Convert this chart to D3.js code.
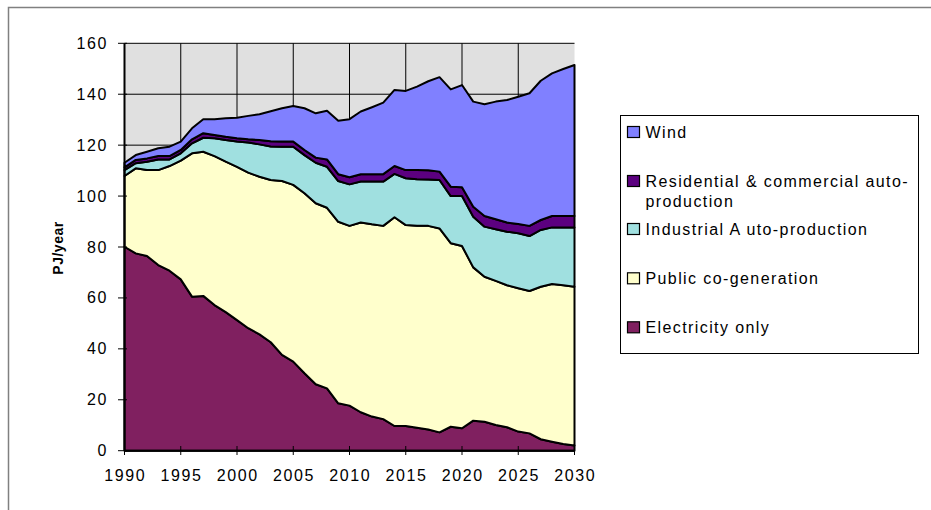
<!DOCTYPE html>
<html><head><meta charset="utf-8">
<script src="https://cdn.jsdelivr.net/npm/d3@7"></script>
<style>body{margin:0;background:#fff}svg{display:block}text{font-family:"Liberation Sans",Arial,sans-serif}</style>
</head><body><svg id="c" width="931" height="510"></svg>
<script>
const years = d3.range(1990, 2031);
const electricityOnly = [80.1,77.5,76.5,72.9,70.7,67.3,60.5,60.8,57.2,54.4,51.3,48.1,45.7,42.6,37.6,35.0,30.4,26.1,24.5,18.6,17.7,15.1,13.4,12.4,9.7,9.7,9.0,8.3,7.2,9.4,8.8,11.8,11.4,10.1,9.2,7.5,6.8,4.5,3.5,2.6,2.0];
const publicCogen = [27.8,33.4,33.7,37.3,41.1,46.6,56.3,56.6,58.5,59.1,60.2,61.1,61.9,63.7,68.3,69.4,70.7,71.1,70.9,71.3,70.6,74.5,75.5,75.9,82.0,78.9,79.3,80.0,80.1,72.1,71.6,60.2,56.9,56.6,55.8,56.3,55.9,59.9,62.0,62.4,62.4];
const industrialAuto = [2.3,2.0,3.3,4.2,2.6,2.9,3.9,5.5,7.0,8.5,9.9,11.8,12.7,13.2,13.5,15.0,15.0,15.9,16.1,16.0,16.3,16.1,16.8,17.4,17.0,18.4,18.3,18.2,19.0,18.5,19.6,19.9,19.7,20.3,21.0,21.6,21.6,22.3,22.2,22.7,23.3];
const residentialAuto = [1.1,1.3,1.3,1.3,1.3,1.3,1.6,1.8,1.3,1.3,1.3,1.3,1.7,2.0,2.0,2.0,2.0,2.0,2.9,2.7,2.8,2.9,2.9,2.9,3.1,3.2,3.6,3.6,3.3,3.7,3.5,3.9,4.2,3.9,3.6,3.6,4.0,3.9,4.5,4.5,4.5];
const wind = [1.8,1.9,2.6,3.1,3.7,3.3,4.3,5.5,6.2,7.3,8.1,9.2,10.1,11.8,13.1,14.0,16.4,17.4,19.1,21.0,22.8,24.6,26.3,28.1,29.9,31.1,32.8,35.0,37.1,38.2,40.1,41.3,43.9,46.2,48.1,50.0,52.1,54.7,56.0,57.7,59.3];
const seriesKeys = ["Electricity only","Public co-generation","Industrial A uto-production","Residential & commercial auto-production","Wind"];
const seriesColors = ["#802060","#FFFFCC","#A0E0E0","#5C0080","#8080FF"];
const yTicks = [0,20,40,60,80,100,120,140,160];
const xTicks = [1990,1995,2000,2005,2010,2015,2020,2025,2030];
const legendOrder = ["Wind","Residential & commercial auto-|production","Industrial A uto-production","Public co-generation","Electricity only"];

const seriesArrays = [electricityOnly, publicCogen, industrialAuto, residentialAuto, wind];
const table = years.map((y,i)=>{const o={year:y}; seriesKeys.forEach((k,j)=>o[k]=seriesArrays[j][i]); return o;});

const svg = d3.select("#c");
const L=124.5, R=574.5, T=43.3, B=450.7;
const x = d3.scaleLinear().domain([1990,2030]).range([L,R]);
const y = d3.scaleLinear().domain([0,160]).range([B,T]);

svg.append("rect").attr("x",8.5).attr("y",7.5).attr("width",1000).attr("height",1000)
  .attr("fill","none").attr("stroke","#808080").attr("stroke-width",1.5);

svg.append("rect").attr("x",L).attr("y",T).attr("width",R-L).attr("height",B-T).attr("fill","#E0E0E0");
svg.append("g").selectAll("line").data(yTicks).join("line")
  .attr("x1",L).attr("x2",R).attr("y1",d=>y(d)).attr("y2",d=>y(d)).attr("stroke","#000").attr("stroke-width",1);
svg.append("g").selectAll("line").data(xTicks.slice(1,-1)).join("line")
  .attr("y1",T).attr("y2",B).attr("x1",d=>x(d)).attr("x2",d=>x(d)).attr("stroke","#000").attr("stroke-width",1);

const stack = d3.stack().keys(seriesKeys)(table);
const area = d3.area().x(d=>x(d.data.year)).y0(d=>y(d[0])).y1(d=>y(d[1]));
svg.append("g").selectAll("path").data(stack).join("path")
  .attr("d",area).attr("fill",(d,i)=>seriesColors[i]).attr("stroke","#000").attr("stroke-width",2).attr("stroke-linejoin","round");

svg.append("line").attr("x1",L).attr("x2",L).attr("y1",T).attr("y2",B).attr("stroke","#000").attr("stroke-width",2);
svg.append("line").attr("x1",L).attr("x2",R).attr("y1",B).attr("y2",B).attr("stroke","#000").attr("stroke-width",2);

const ya = svg.append("g");
ya.selectAll("line").data(yTicks).join("line").attr("x1",118).attr("x2",127).attr("y1",d=>y(d)).attr("y2",d=>y(d)).attr("stroke","#000");
ya.selectAll("text").data(yTicks).join("text").attr("x",108).attr("y",d=>y(d)+5.5).attr("text-anchor","end")
  .attr("font-size",16).attr("letter-spacing",1.6).text(d=>d);
const xa = svg.append("g");
xa.selectAll("line").data(xTicks).join("line").attr("y1",446).attr("y2",455).attr("x1",d=>x(d)).attr("x2",d=>x(d)).attr("stroke","#000");
xa.selectAll("text").data(xTicks).join("text").attr("x",d=>x(d)+0.8).attr("y",481).attr("text-anchor","middle")
  .attr("font-size",16).attr("letter-spacing",1.6).text(d=>d);

svg.append("text").attr("transform","translate(63,248) rotate(-90)").attr("text-anchor","middle")
  .attr("font-size",14).attr("font-weight","bold").attr("letter-spacing",0.5).text("PJ/year");

svg.append("rect").attr("x",620.5).attr("y",115.5).attr("width",298).attr("height",238).attr("fill","#fff").attr("stroke","#000");
const legY = [132,181,229,278.3,327.3];
const legColors = ["#8080FF","#5C0080","#A0E0E0","#FFFFCC","#802060"];
legendOrder.forEach((lab,i)=>{
  svg.append("rect").attr("x",627.5).attr("y",legY[i]-5.5).attr("width",12).attr("height",11)
    .attr("fill",legColors[i]).attr("stroke","#000").attr("stroke-width",1.2);
  const parts = lab.split("|");
  parts.forEach((p,j)=>{
    svg.append("text").attr("x",645.5).attr("y",legY[i]+5.5+j*20).attr("font-size",16).attr("letter-spacing",1.4).text(p);
  });
});
</script></body></html>
